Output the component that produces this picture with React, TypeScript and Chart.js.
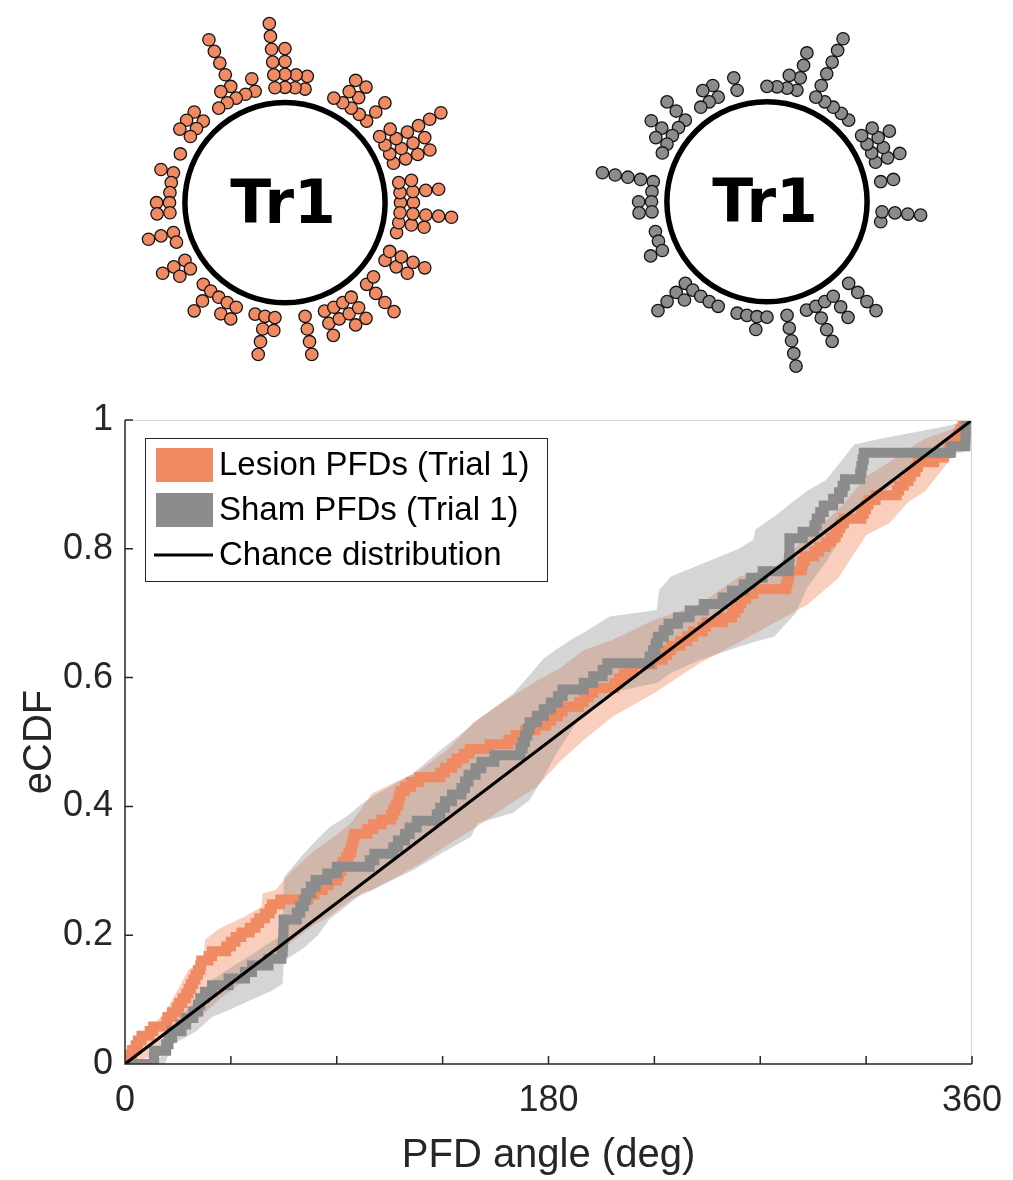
import React, { useEffect, useRef } from 'react';
import { Chart, registerables } from 'chart.js';

Chart.register(...registerables);

// Preferred firing directions (deg, counter-clockwise from east), one entry per cell.
const lesionAngles = [
  0.2, 0.4, 3, 4.5, 5.5, 7, 10.5, 12, 17.5, 18, 20, 22, 23, 24.5, 26, 27,
  28, 29, 30, 31, 32, 32.4, 35.5, 37, 43, 45, 47, 49.5, 53, 55.5, 57,
  59.5, 61.5, 62.4, 66, 78, 80.5, 84, 86.5, 90, 91, 92, 92.4,
  94, 95, 96, 96.5, 97, 97.4, 103, 105.5, 109, 113, 114, 115, 116, 116.5, 117,
  119, 121.5, 125, 134, 136, 139, 141, 144, 146.5, 155, 163, 166, 170, 174.5,
  179, 181, 184, 186, 193, 195, 197, 199, 208, 210, 212, 214, 216, 224,
  228.5, 230.5, 232, 236, 239, 241.5, 245.5, 247, 254, 258, 259.5, 261, 262,
  264, 267, 281, 281.5, 282, 282.4, 287.6, 288, 289, 293, 295, 298, 300, 302,
  303, 304, 305.5, 313, 314, 315, 316, 319, 328, 329, 331, 333, 334, 336, 337,
  344, 348, 350, 351, 353, 354, 355, 356, 357,
];

const shamAngles = [
  12.3, 12.4, 17.5, 18.5, 20, 24, 26, 29, 31, 32, 34, 37, 44, 51, 54, 61,
  66.5, 67, 67.2, 67.3, 67.4, 67.4, 73, 74.5, 76, 77, 79, 81, 86, 90,
  104, 106, 114, 116, 119, 121, 124, 132.5, 134, 136, 139, 143, 144.5, 146,
  149, 151.5, 157, 168, 169, 170, 171, 172, 175, 178, 181, 184, 186,
  195, 199, 203, 205, 223, 224.5, 225.5, 226.5, 229, 231, 235, 240, 246,
  254, 258, 263, 266, 271, 282, 282.2, 282.4, 282.4, 282.4, 288,
  293, 294, 295.5, 297, 301, 303.5, 305, 306, 312.5, 313, 313.5, 314,
  351, 357.2, 357.3, 357.4, 357.4,
];

// Confidence bands around each eCDF.
const lesionBandDeg = [0, 10, 17, 27, 33.5, 34, 40, 51, 58, 58.5, 64, 71, 80, 87, 96, 105, 115, 125, 137, 148, 164, 175, 185, 195, 207, 225, 244, 261, 276, 290, 303, 315, 325, 333, 340, 351, 360];
const lesionBandHigh = [0.02, 0.055, 0.079, 0.146, 0.165, 0.193, 0.21, 0.229, 0.244, 0.265, 0.27, 0.3, 0.33, 0.348, 0.374, 0.42, 0.438, 0.455, 0.488, 0.53, 0.57, 0.595, 0.615, 0.643, 0.658, 0.69, 0.713, 0.757, 0.77, 0.82, 0.86, 0.912, 0.935, 0.955, 0.971, 0.985, 1.0];
const lesionBandLow = [0, 0.01, 0.03, 0.06, 0.075, 0.08, 0.1, 0.13, 0.15, 0.155, 0.17, 0.19, 0.215, 0.23, 0.255, 0.27, 0.29, 0.31, 0.34, 0.365, 0.405, 0.43, 0.47, 0.503, 0.539, 0.576, 0.622, 0.655, 0.685, 0.713, 0.754, 0.821, 0.84, 0.873, 0.889, 0.94, 1.0];

const shamBandDeg = [0, 15, 17, 20, 30, 37, 45, 54, 62, 67, 67.5, 76, 82, 87, 94, 101, 105, 122, 135, 147, 150, 165, 172, 178, 183, 190, 195, 206, 226, 227, 232, 244, 261, 267, 268, 276, 285, 290, 298, 310, 320, 330, 340, 350, 357, 360];
const shamBandHigh = [0, 0.01, 0.03, 0.06, 0.1, 0.13, 0.15, 0.17, 0.19, 0.2, 0.29, 0.327, 0.35, 0.368, 0.384, 0.405, 0.415, 0.45, 0.49, 0.525, 0.535, 0.575, 0.604, 0.63, 0.643, 0.66, 0.67, 0.695, 0.705, 0.736, 0.757, 0.775, 0.8, 0.814, 0.83, 0.85, 0.876, 0.89, 0.907, 0.962, 0.97, 0.977, 0.984, 0.991, 0.998, 1.0];
const shamBandLow = [0, 0, 0, 0.03, 0.05, 0.073, 0.085, 0.1, 0.113, 0.125, 0.16, 0.18, 0.2, 0.225, 0.245, 0.266, 0.27, 0.3, 0.328, 0.353, 0.374, 0.39, 0.41, 0.446, 0.48, 0.52, 0.545, 0.576, 0.592, 0.594, 0.607, 0.627, 0.648, 0.655, 0.656, 0.664, 0.7, 0.74, 0.78, 0.85, 0.88, 0.91, 0.93, 0.945, 0.951, 1.0];

const seriesLabels = ['Lesion PFDs (Trial 1)', 'Sham PFDs (Trial 1)', 'Chance distribution'];
const cellLabel = 'Tr1';
const xTickLabels = [0, 180, 360];
const xMinorTicks = [0, 45, 90, 135, 180, 225, 270, 315, 360];
const yTicks = [0, 0.2, 0.4, 0.6, 0.8, 1];

const LESION = '#F08A62';
const SHAM = '#8C8C8C';
const FONT = "'Liberation Sans', Arial, sans-serif";
const INK = '#262626';

// Radial dot layout: cells are binned to 5 deg and stacked outwards.
const RING_R = 104;
const FIRST_LAYER = 120;
const LAYER_STEP = 13.4;
const BIN = 5;

function ringDots(angles: number[]) {
  const used = new Map<number, number>();
  return angles.map((a) => {
    const bin = (((Math.round(a / BIN) * BIN) % 360) + 360) % 360;
    const k = used.get(bin) ?? 0;
    used.set(bin, k + 1);
    const r = FIRST_LAYER + k * LAYER_STEP;
    const t = (bin * Math.PI) / 180;
    return { x: r * Math.cos(t), y: r * Math.sin(t) };
  });
}

function ecdf(angles: number[]) {
  const s = [...angles].sort((a, b) => a - b);
  const n = s.length;
  const pts = [{ x: 0, y: 0 }];
  s.forEach((a, i) => pts.push({ x: a, y: (i + 1) / n }));
  pts.push({ x: 360, y: 1 });
  return pts;
}

function band(deg: number[], vals: number[]) {
  return deg.map((d, i) => ({ x: d, y: vals[i] }));
}

const ringPlugin = {
  id: 'ring',
  beforeDatasetsDraw(chart: any, _args: any, opts: any) {
    const { ctx, scales } = chart;
    const cx = scales.x.getPixelForValue(0);
    const cy = scales.y.getPixelForValue(0);
    const r = scales.x.getPixelForValue(RING_R) - cx;
    ctx.save();
    ctx.beginPath();
    ctx.arc(cx, cy, r, 0, Math.PI * 2);
    ctx.fillStyle = '#ffffff';
    ctx.fill();
    ctx.lineWidth = 5.5;
    ctx.strokeStyle = '#000000';
    ctx.stroke();
    ctx.fillStyle = '#000000';
    ctx.font = "bold 60px 'DejaVu Sans', Verdana, sans-serif";
    ctx.textAlign = 'center';
    ctx.textBaseline = 'alphabetic';
    ctx.fillText(opts.label, cx - 2, cy + 20);
    ctx.restore();
  },
};

function DotRing(props: { angles: number[]; color: string; left: number; cy: number }) {
  const ref = useRef<HTMLCanvasElement>(null);
  const W = 400;
  const H = 390;
  const cx = 200;
  useEffect(() => {
    const chart = new Chart(ref.current!, {
      type: 'scatter',
      data: {
        datasets: [
          {
            data: ringDots(props.angles),
            pointRadius: 6.2,
            pointBackgroundColor: props.color,
            pointBorderColor: '#141414',
            pointBorderWidth: 1.3,
            clip: false as any,
          },
        ],
      },
      options: {
        animation: false,
        responsive: false,
        events: [],
        layout: { padding: 0 },
        scales: {
          x: { type: 'linear', display: false, min: -cx, max: W - cx },
          y: { type: 'linear', display: false, min: -(H - props.cy), max: props.cy },
        },
        plugins: {
          legend: { display: false },
          tooltip: { enabled: false },
          ring: { label: cellLabel },
        } as any,
      },
      plugins: [ringPlugin],
    });
    return () => chart.destroy();
  }, []);
  return (
    <canvas
      ref={ref}
      width={W}
      height={H}
      style={{ position: 'absolute', left: props.left, top: 0, width: W, height: H }}
    />
  );
}

const axesPlugin = {
  id: 'matlabAxes',
  afterDatasetsDraw(chart: any) {
    const { ctx, chartArea, scales } = chart;
    const { left, right, top, bottom } = chartArea;
    ctx.save();
    ctx.strokeStyle = '#d9d9d9';
    ctx.lineWidth = 1;
    ctx.beginPath();
    ctx.moveTo(left, top + 0.5);
    ctx.lineTo(right, top + 0.5);
    ctx.moveTo(right - 0.5, top);
    ctx.lineTo(right - 0.5, bottom);
    ctx.stroke();
    ctx.strokeStyle = INK;
    ctx.lineWidth = 1.5;
    ctx.beginPath();
    ctx.moveTo(left, top);
    ctx.lineTo(left, bottom);
    ctx.lineTo(right, bottom);
    xMinorTicks.forEach((v) => {
      const px = scales.x.getPixelForValue(v);
      ctx.moveTo(px, bottom);
      ctx.lineTo(px, bottom - 8);
    });
    yTicks.forEach((v) => {
      const py = scales.y.getPixelForValue(v);
      ctx.moveTo(left, py);
      ctx.lineTo(left + 8, py);
    });
    ctx.stroke();
    ctx.restore();
  },
  afterDraw(chart: any) {
    const { ctx } = chart;
    const ds = chart.data.datasets;
    const items = [ds[4], ds[5], ds[6]];
    const bx = 145.5;
    const by = 58.5;
    ctx.save();
    ctx.fillStyle = '#ffffff';
    ctx.fillRect(bx, by, 402, 143);
    ctx.strokeStyle = INK;
    ctx.lineWidth = 1;
    ctx.strokeRect(bx, by, 402, 143);
    ctx.font = `33px ${FONT}`;
    ctx.textBaseline = 'middle';
    ctx.textAlign = 'left';
    const rows = [85, 130, 175];
    items.forEach((d: any, i: number) => {
      const yc = rows[i];
      if (i < 2) {
        ctx.fillStyle = d.borderColor;
        ctx.fillRect(156, yc - 17, 57, 34);
      } else {
        ctx.strokeStyle = d.borderColor;
        ctx.lineWidth = 3;
        ctx.beginPath();
        ctx.moveTo(154, yc);
        ctx.lineTo(213, yc);
        ctx.stroke();
      }
      ctx.fillStyle = '#000000';
      ctx.fillText(d.label, 219, yc + 1);
    });
    ctx.restore();
  },
};

function EcdfChart() {
  const ref = useRef<HTMLCanvasElement>(null);
  useEffect(() => {
    const tickFont = { family: FONT, size: 36 };
    const chart = new Chart(ref.current!, {
      type: 'line',
      data: {
        datasets: [
          {
            label: 'lesion band',
            data: band(lesionBandDeg, lesionBandHigh),
            borderWidth: 0,
            pointRadius: 0,
            backgroundColor: 'rgba(240,138,98,0.42)',
            fill: '+1',
            order: 12,
          },
          {
            label: 'lesion band low',
            data: band(lesionBandDeg, lesionBandLow),
            borderWidth: 0,
            pointRadius: 0,
            fill: false,
            order: 12,
          },
          {
            label: 'sham band',
            data: band(shamBandDeg, shamBandHigh),
            borderWidth: 0,
            pointRadius: 0,
            backgroundColor: 'rgba(140,140,140,0.37)',
            fill: '+1',
            order: 11,
          },
          {
            label: 'sham band low',
            data: band(shamBandDeg, shamBandLow),
            borderWidth: 0,
            pointRadius: 0,
            fill: false,
            order: 11,
          },
          {
            label: seriesLabels[0],
            data: ecdf(lesionAngles),
            borderColor: LESION,
            borderWidth: 10,
            stepped: true,
            pointRadius: 0,
            fill: false,
            borderJoinStyle: 'miter',
            borderCapStyle: 'butt',
            order: 3,
          },
          {
            label: seriesLabels[1],
            data: ecdf(shamAngles),
            borderColor: SHAM,
            borderWidth: 10,
            stepped: true,
            pointRadius: 0,
            fill: false,
            borderJoinStyle: 'miter',
            borderCapStyle: 'butt',
            order: 2,
          },
          {
            label: seriesLabels[2],
            data: [
              { x: 0, y: 0 },
              { x: 360, y: 1 },
            ],
            borderColor: '#000000',
            borderWidth: 3,
            pointRadius: 0,
            fill: false,
            order: 1,
          },
        ],
      },
      options: {
        animation: false,
        responsive: false,
        events: [],
        layout: { padding: { top: 40, right: 41, left: 0, bottom: 0 } },
        scales: {
          x: {
            type: 'linear',
            min: 0,
            max: 360,
            afterFit: (s: any) => {
              s.height = 116;
              s.paddingLeft = 0;
              s.paddingRight = 0;
            },
            afterBuildTicks: (s: any) => {
              s.ticks = xTickLabels.map((v) => ({ value: v }));
            },
            grid: { display: false, drawTicks: false },
            border: { display: false },
            ticks: {
              autoSkip: false,
              maxRotation: 0,
              padding: 15,
              font: tickFont,
              color: INK,
              callback: (v: any) => String(v),
            },
            title: {
              display: true,
              text: 'PFD angle (deg)',
              font: { family: FONT, size: 40 },
              color: INK,
              padding: { top: 0, bottom: 0 },
            },
          },
          y: {
            type: 'linear',
            min: 0,
            max: 1,
            afterFit: (s: any) => {
              s.width = 125;
              s.paddingTop = 0;
              s.paddingBottom = 0;
            },
            afterBuildTicks: (s: any) => {
              s.ticks = yTicks.map((v) => ({ value: v }));
            },
            grid: { display: false, drawTicks: false },
            border: { display: false },
            ticks: { padding: 12, font: tickFont, color: INK, callback: (v: any) => String(v) },
            title: {
              display: true,
              text: 'eCDF',
              font: { family: FONT, size: 40 },
              color: INK,
              padding: { top: 16, bottom: 0 },
            },
          },
        },
        plugins: {
          legend: { display: false },
          tooltip: { enabled: false },
          filler: { propagate: false },
        },
      },
      plugins: [axesPlugin],
    });
    return () => chart.destroy();
  }, []);
  return (
    <canvas
      ref={ref}
      width={1013}
      height={800}
      style={{ position: 'absolute', left: 0, top: 380, width: 1013, height: 800 }}
    />
  );
}

export default function App() {
  return (
    <div
      style={{
        position: 'absolute',
        left: 0,
        top: 0,
        width: 1013,
        height: 1180,
        background: '#ffffff',
        overflow: 'hidden',
      }}
    >
      <DotRing angles={lesionAngles} color={LESION} left={85} cy={203} />
      <DotRing angles={shamAngles} color={SHAM} left={567} cy={202} />
      <EcdfChart />
    </div>
  );
}
